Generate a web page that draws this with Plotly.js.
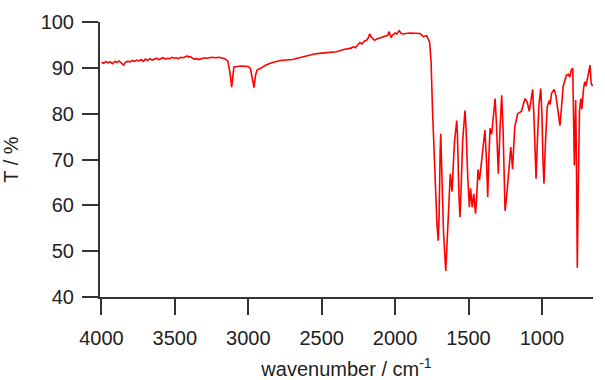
<!DOCTYPE html>
<html>
<head>
<meta charset="utf-8">
<script src="https://cdn.plot.ly/plotly-3.0.1.min.js"></script>
<style>html,body{margin:0;padding:0;background:#fff;}#chart{width:605px;height:380px;}</style>
</head>
<body>
<div id="chart"></div>
<script>
const wavenumber = [
  4000,3985,3970,3955,3940,3925,3910,3895,3880,3865,3850,3835,3820,3805,3790,3775,3760,3745,3730,3715,3700,3685,3670,3655,3640,
  3625,3610,3595,3580,3565,3550,3535,3520,3505,3490,3475,3460,3445,3430,3415,3405,3395,3380,3365,3350,3335,3300,3280,3250,3220,3200,3180,3160,
  3140,3125,3113,3105,3098,3050,3000,2985,2970,2961,2950,2940,2910,2880,2830,2780,2700,2650,2600,2550,2500,2450,2400,2350,2300,2285,2270,2255,2240,
  2225,2210,2195,2185,2175,2171,2165,2155,2140,2125,2110,2095,2080,2065,2050,2045,2040,2033,2025,2018,2010,2000,1990,1980,1971,1962,1950,1900,1860,1830,1808,1785,1765,
  1755,1745,1730,1715,1706,1700,1693,1689,1680,1670,1655,1645,1635,1624,1618,1612,1605,1595,1580,1575,1565,1558,1550,1540,1524,1517,1505,1494,1486,1475,1464,1452,1444,1435,1425,1405,1388,1378,1369,1362,1353,1342,1330,1319,1310,1297,1285,1274,1265,1251,1240,1230,1212,1200,1185,1165,1140,1115,1100,1086,1075,1063,1055,1048,1040,1032,1020,1008,1000,993,986,978,964,950,944,934,916,905,890,877,870,855,833,820,810,800,790,784,779,773,770,765,759,752,744,735,728,716,708,700,690,680,672,665,655
];
const transmittance = [
  91.2,91.0,91.4,91.1,91.3,90.9,91.4,91.2,91.5,91.1,90.6,91.3,91.4,91.3,91.6,91.4,91.7,91.5,91.8,91.4,91.9,91.6,92.0,91.7,91.9,
  92.1,91.8,92.0,92.2,91.9,92.1,92.0,92.3,92.1,92.2,92.0,92.3,92.2,92.4,92.6,92.3,92.5,92.1,91.9,92.0,91.8,92.2,92.1,92.3,92.2,92.3,92.2,92.0,
  91.5,89.0,85.8,88.0,90.2,90.4,90.3,89.8,87.0,85.7,88.5,89.5,90.0,90.6,91.2,91.6,91.8,92.2,92.5,93.0,93.2,93.4,93.5,94.0,94.3,94.6,94.4,95.0,95.5,
  95.2,95.8,96.0,96.4,97.2,97.4,96.8,96.4,96.0,96.3,96.4,96.6,96.8,96.9,97.1,97.6,97.9,97.0,96.6,97.2,97.3,97.6,97.4,97.8,98.1,97.6,97.4,97.6,97.5,97.5,96.8,97.0,95.6,
  91.5,80.7,68.0,56.0,52.3,58.0,72.0,75.6,65.0,54.0,45.7,52.0,60.0,66.9,65.0,63.0,68.0,74.0,78.5,75.0,62.0,57.4,64.0,74.0,80.7,77.0,66.0,59.6,63.7,59.6,62.5,58.2,62.0,67.8,65.5,72.0,76.4,70.0,61.8,70.0,76.8,75.5,80.0,83.3,78.0,66.9,77.0,84.0,77.0,58.8,62.0,66.0,72.7,67.9,77.1,80.0,80.5,83.3,82.5,80.5,83.0,85.3,80.0,72.0,65.8,73.0,82.0,85.5,80.0,70.0,64.7,72.0,81.5,82.9,82.0,84.5,85.3,84.0,80.0,77.4,80.0,86.0,88.4,88.6,88.0,89.5,89.9,80.0,68.7,78.0,83.0,70.0,46.4,65.0,80.7,83.3,81.0,85.5,87.0,86.0,88.0,89.5,90.6,86.7,86.0
];
const xTicks = [4000,3500,3000,2500,2000,1500,1000];
const yTicks = [40,50,60,70,80,90,100];

const axisFont = {family: 'Liberation Sans, Arial, sans-serif', size: 20, color: '#222'};
Plotly.newPlot('chart', [{
  x: wavenumber, y: transmittance, type: 'scatter', mode: 'lines',
  line: {color: '#ff0000', width: 1.6}, hoverinfo: 'skip'
}], {
  width: 605, height: 380,
  margin: {l: 100, r: 12, t: 22, b: 83, pad: 0},
  paper_bgcolor: '#fff', plot_bgcolor: '#fff',
  showlegend: false,
  xaxis: {
    range: [4010, 652], autorange: false,
    tickmode: 'array', tickvals: xTicks, ticktext: xTicks.map(String),
    showgrid: false, zeroline: false, showline: true, linecolor: '#333', linewidth: 2,
    ticks: 'outside', ticklen: 16, tickwidth: 2, tickcolor: '#333',
    tickfont: axisFont, ticklabelstandoff: 6,
    title: {text: 'wavenumber / cm<sup>-1</sup>', font: axisFont, standoff: 14}
  },
  yaxis: {
    range: [40, 100], autorange: false,
    tickmode: 'array', tickvals: yTicks, ticktext: yTicks.map(String),
    showgrid: false, zeroline: false, showline: true, linecolor: '#333', linewidth: 2,
    ticks: 'outside', ticklen: 16, tickwidth: 2, tickcolor: '#333',
    tickfont: axisFont, ticklabelstandoff: 4,
    title: {text: 'T / %', font: axisFont, standoff: 22}
  }
}, {staticPlot: true, displayModeBar: false});
</script>
</body>
</html>
